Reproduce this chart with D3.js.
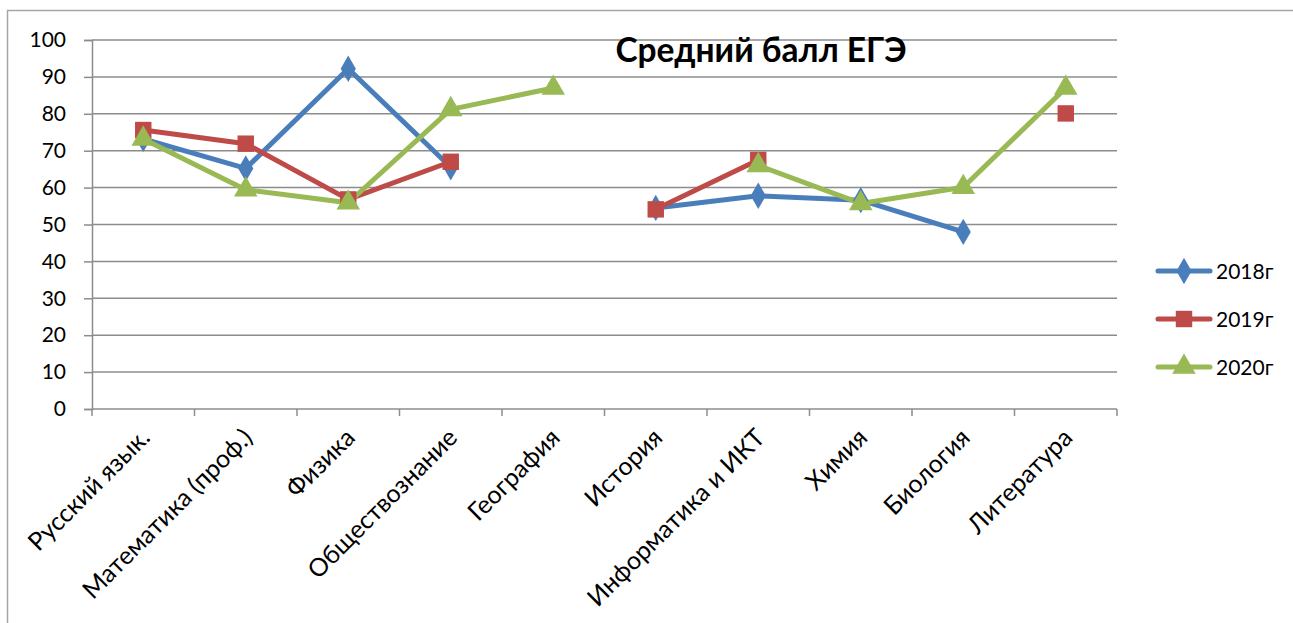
<!DOCTYPE html>
<html>
<head>
<meta charset="utf-8">
<script src="https://cdn.jsdelivr.net/npm/d3@7"></script>
<style>
  body { margin: 0; background: #fff; }
  svg { display: block; font-family: Lato, "Liberation Sans", sans-serif; }
</style>
</head>
<body>
<svg id="chart" width="1293" height="623"></svg>
<script>
// Data
const subjects = ["Русский язык.", "Математика (проф.)", "Физика", "Обществознание", "География",
  "История", "Информатика и ИКТ", "Химия", "Биология", "Литература"];
const scores2018 = [73.2, 65.2, 92.2, 65.5, null, 54.5, 57.8, 56.6, 48, null];
const scores2019 = [75.6, 71.9, 56.8, 67.0, null, 54.1, 67.5, null, null, 80.1];
const scores2020 = [73.2, 59.4, 55.9, 81.2, 87.0, null, 66.0, 55.7, 60.1, 87.0];
const yTicks = [0, 10, 20, 30, 40, 50, 60, 70, 80, 90, 100];

const series = [
  { name: "2018г", values: scores2018, color: "#4A7EBB", marker: d3.symbolDiamond, size: 200 },
  { name: "2019г", values: scores2019, color: "#BE4B48", marker: d3.symbolSquare, size: 270 },
  { name: "2020г", values: scores2020, color: "#98B954", marker: d3.symbolTriangle, size: 240 }
];

const svg = d3.select("#chart");
const plotLeft = 92, plotRight = 1117, plotTop = 40, plotBottom = 409;

// outer frame
svg.append("path")
  .attr("d", "M7.5,623 V10.5 H1293")
  .attr("fill", "none")
  .attr("stroke", "#a6a6a6")
  .attr("stroke-width", 1.5);

const x = d3.scaleBand().domain(subjects).range([plotLeft, plotRight]);
const y = d3.scaleLinear().domain([0, 100]).range([plotBottom, plotTop]);

// gridlines
svg.append("g")
  .selectAll("line")
  .data(yTicks.filter(t => t > 0))
  .enter()
  .append("line")
  .attr("x1", plotLeft).attr("x2", plotRight)
  .attr("y1", d => y(d)).attr("y2", d => y(d))
  .attr("stroke", "#8c8c8c")
  .attr("stroke-width", 1.5);

// y axis
const yAxis = svg.append("g")
  .attr("transform", `translate(${plotLeft},0)`)
  .call(d3.axisLeft(y).tickValues(yTicks).tickSize(8).tickPadding(18));
yAxis.select(".domain").attr("stroke", "#8c8c8c").attr("stroke-width", 1.5);
yAxis.selectAll(".tick line").attr("stroke", "#8c8c8c").attr("stroke-width", 1.5);
yAxis.selectAll(".tick text").attr("font-size", 21).attr("fill", "#000")
  .attr("font-family", "Lato, sans-serif");

// x axis
const xAxis = svg.append("g")
  .attr("transform", `translate(0,${plotBottom})`);
xAxis.append("line")
  .attr("x1", plotLeft).attr("x2", plotRight)
  .attr("stroke", "#8c8c8c").attr("stroke-width", 1.5);
xAxis.selectAll(".xtick")
  .data(subjects.concat(["__end"]))
  .enter()
  .append("line")
  .attr("x1", (d, i) => i < subjects.length ? x(d) : plotRight)
  .attr("x2", (d, i) => i < subjects.length ? x(d) : plotRight)
  .attr("y1", 0).attr("y2", 7)
  .attr("stroke", "#8c8c8c").attr("stroke-width", 1.5);
xAxis.selectAll(".xlabel")
  .data(subjects)
  .enter()
  .append("text")
  .attr("transform", d => `translate(${x(d) + x.bandwidth() / 2 + 2},24) rotate(-45)`)
  .attr("text-anchor", "end")
  .attr("dy", "0.35em")
  .attr("font-size", 25)
  .text(d => d);

// lines and markers
const line = d3.line()
  .defined(d => d != null)
  .x((d, i) => x(subjects[i]) + x.bandwidth() / 2)
  .y(d => y(d));

series.forEach(s => {
  svg.append("path")
    .attr("d", line(s.values))
    .attr("fill", "none")
    .attr("stroke", s.color)
    .attr("stroke-width", 5)
    .attr("stroke-linejoin", "round")
    .attr("stroke-linecap", "round");
});

series.forEach(s => {
  const sym = d3.symbol().type(s.marker).size(s.size);
  svg.append("g")
    .selectAll("path")
    .data(s.values.map((v, i) => ({ v, i })).filter(d => d.v != null))
    .enter()
    .append("path")
    .attr("transform", d => `translate(${x(subjects[d.i]) + x.bandwidth() / 2},${y(d.v)})`)
    .attr("d", sym)
    .attr("fill", s.color);
});

// title
svg.append("text")
  .attr("x", 761).attr("y", 62)
  .attr("text-anchor", "middle")
  .attr("font-size", 33.5)
  .attr("font-weight", "bold")
  .text("Средний балл ЕГЭ");

// legend
const legend = svg.append("g")
  .selectAll("g")
  .data(series)
  .enter()
  .append("g")
  .attr("transform", (d, i) => `translate(0,${271 + i * 48})`);
legend.append("line")
  .attr("x1", 1158).attr("x2", 1210)
  .attr("stroke", d => d.color)
  .attr("stroke-width", 5)
  .attr("stroke-linecap", "round");
legend.append("path")
  .attr("transform", "translate(1184,0)")
  .attr("d", d => d3.symbol().type(d.marker).size(d.size)())
  .attr("fill", d => d.color);
legend.append("text")
  .attr("x", 1216).attr("dy", "0.36em")
  .attr("font-size", 21)
  .text(d => d.name);
</script>
</body>
</html>
